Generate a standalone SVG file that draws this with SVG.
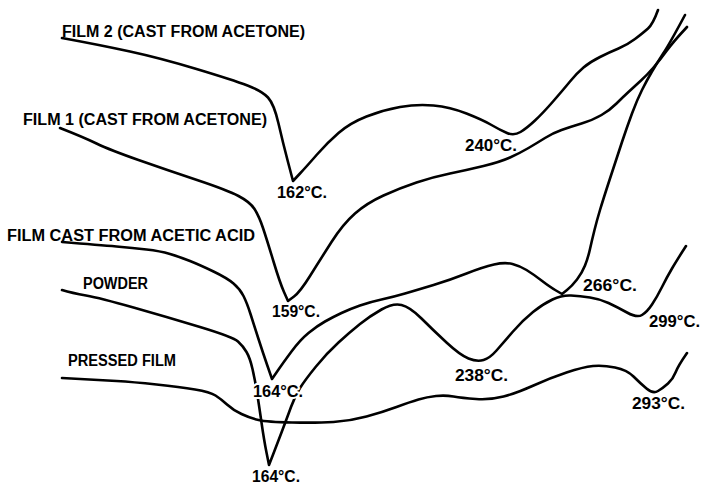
<svg xmlns="http://www.w3.org/2000/svg" width="701" height="484" viewBox="0 0 701 484">
<style>
.c{fill:none;stroke:#000;stroke-width:2.6;stroke-linecap:round;stroke-linejoin:round}
.t{font-family:"Liberation Sans",Arial,sans-serif;font-weight:bold;font-size:16px;fill:#000}
.h{stroke:#fff;stroke-width:4;paint-order:stroke;stroke-linejoin:round}
</style>
<rect width="701" height="484" fill="#fff"/>
<g id="connectors">
<path id="curve-film2" class="c" d="M62,38 Q100,45 130,51.5 T196.5,69 T247.5,85.5 T268,97.5 T278.5,123.5 T288,162 T293,181 T300,173.5 T317,154.5 T338.5,133 T366.5,116.5 T400,107 T433.5,105.5 T466.5,113.5 T491.5,125 T507,133 T520.5,132 T535,120.5 T553,101.5 T570,81.5 T583.5,67.5 T600,57 T618.5,48.5 T635,39 T648,28.5 T658,10"/>
<path id="curve-film1" class="c" d="M60,128 Q83,137 96.5,143.5 T138.5,160 T197,180 T238.5,196 T254.5,209 T263,228 T273.5,261.5 T284,292 T288,301 T294,296.5 T310,276 T331.5,242 T355,213.5 T383.5,195.5 T416.5,182.5 T450,173.5 T483.5,166 T510,157.5 T528.5,148 T545,138 T561.5,130 T581.5,123.5 T601.5,115 T616.5,103.5 T629,91.5 T641,80.5 T653.5,67.5 T666.5,51 T687,27"/>
<path id="curve-acetic" class="c" d="M62,242 Q100,245 116.5,246.5 T146.5,249.5 T170,254 T190,261 T213.5,271.5 T233.5,283.5 T243.5,296 T250.5,314 T258.5,339 T267.5,366 T272,379 T277.5,371 T291.5,351.5 T308.5,333 T325,321.5 T341.5,313 T360,305.5 T381.5,299.5 T405,293.5 T433.5,285 T466.5,273.5 T494,264.5 T512.5,264 T526.5,270 T541.5,280.5 T556,290.5 T562,294 T567,290 T577,279.5 T585,265.5 T590,249 T594.5,230 T600,210 T610,178.5 T622,142 T632,113.5 T642,90 T652,71.5 T663.5,53 T685,15"/>
<path id="curve-powder" class="c" d="M62,290 Q72,293 86,295.5 T133.5,307.5 T200,327 T238,341.5 T246.5,352 T252.5,369 T257,392.5 T261.5,422.5 T266.5,452.5 T269,465 T272.5,456 T281.5,432.5 T291,407 T300,388 T316,366.5 T338.5,342.5 T360,324 T381.5,309.5 T401.5,305 T421.5,318.5 T446.5,342.5 T468.5,358.5 T483.5,360 T496.5,350.5 T513,331.5 T533,312 T552.5,299.5 T571,295.5 T590,297.5 T608.5,303 T627,312.5 T642,315 T652,304.5 T662,287 T672,268.5 T686,246"/>
<path id="curve-pressed" class="c" d="M62,378 Q100,380 116.5,381 T156.5,384.5 T195,389.5 T215.5,395.5 T227,404.5 T241.5,414 T258.5,420 T292,422.5 T333.5,422 T366.5,416.5 T396.5,407 T418.5,399.5 T436,396 T453.5,396.5 T476,399 T503.5,396.5 T533.5,385.5 T566.5,372.5 T593,366 T615,367.5 T633.5,376.5 T646.5,388.5 T658,391 T668,383.5 T675.5,372.5 T687,353"/>
</g>
<g id="film2">
<text class="t" x="62" y="37" textLength="243" lengthAdjust="spacingAndGlyphs">FILM 2 (CAST FROM ACETONE)</text>
<text class="t" x="277" y="198" textLength="50" lengthAdjust="spacingAndGlyphs">162°C.</text>
<text class="t" x="465" y="151" textLength="52" lengthAdjust="spacingAndGlyphs">240°C.</text>
</g>
<g id="film1">
<text class="t" x="23" y="125" textLength="244" lengthAdjust="spacingAndGlyphs">FILM 1 (CAST FROM ACETONE)</text>
<text class="t" x="272" y="317" textLength="48" lengthAdjust="spacingAndGlyphs">159°C.</text>
</g>
<g id="acetic">
<text class="t" x="7" y="241" textLength="248" lengthAdjust="spacingAndGlyphs">FILM CAST FROM ACETIC ACID</text>
<text class="t h" x="253" y="397" textLength="50" lengthAdjust="spacingAndGlyphs">164°C.</text>
<text class="t" x="583" y="291" textLength="54" lengthAdjust="spacingAndGlyphs">266°C.</text>
</g>
<g id="powder">
<text class="t" x="83" y="289" textLength="65" lengthAdjust="spacingAndGlyphs">POWDER</text>
<text class="t" x="252" y="482" textLength="48" lengthAdjust="spacingAndGlyphs">164°C.</text>
<text class="t" x="455" y="381" textLength="53" lengthAdjust="spacingAndGlyphs">238°C.</text>
<text class="t" x="649" y="327" textLength="51" lengthAdjust="spacingAndGlyphs">299°C.</text>
</g>
<g id="pressed">
<text class="t" x="68" y="366" textLength="108" lengthAdjust="spacingAndGlyphs">PRESSED FILM</text>
<text class="t" x="632" y="409" textLength="53" lengthAdjust="spacingAndGlyphs">293°C.</text>
</g>
</svg>
